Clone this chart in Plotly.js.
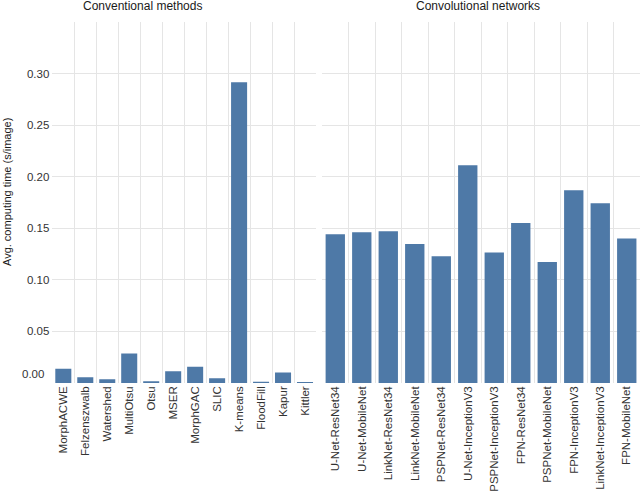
<!DOCTYPE html>
<html>
<head>
<meta charset="utf-8">
<script src="https://cdn.plot.ly/plotly-3.0.1.min.js"></script>
<style>html,body{margin:0;padding:0;background:#fff}#chart{width:642px;height:492px}</style>
</head>
<body>
<div id="chart"></div>
<script>
const convCategories = ["MorphACWE","Felzenszwalb","Watershed","MultiOtsu","Otsu","MSER","MorphGAC","SLIC","K-means","FloodFill","Kapur","Kittler"];
const convValues = [0.0139, 0.0056, 0.0037, 0.0286, 0.0018, 0.0114, 0.0158, 0.0047, 0.2916, 0.0012, 0.0102, 0.0010];
const cnnCategories = ["U-Net-ResNet34","U-Net-MobileNet","LinkNet-ResNet34","LinkNet-MobileNet","PSPNet-ResNet34","U-Net-InceptionV3","PSPNet-InceptionV3","FPN-ResNet34","PSPNet-MobileNet","FPN-InceptionV3","LinkNet-InceptionV3","FPN-MobileNet"];
const cnnValues = [0.1442, 0.1462, 0.1472, 0.1348, 0.1229, 0.2111, 0.1265, 0.1552, 0.1174, 0.1869, 0.1743, 0.1400];
const panelTitles = ["Conventional methods","Convolutional networks"];
const yTickVals = [0.05, 0.10, 0.15, 0.20, 0.25, 0.30];
const yTickText = ["0.05","0.10","0.15","0.20","0.25","0.30"];
const zeroLabel = "0.00";
const yTitle = "Avg. computing time (s/image)";

const barColor = "#4e79a7";
const gridColor = "#e5e5e5";
const font = "Liberation Sans, Arial, Helvetica, sans-serif";
const tickFont = {family: font, size: 11.5, color: "#333333"};

const traces = [
  {type: "bar", x: convCategories, y: convValues, xaxis: "x", yaxis: "y",
   marker: {color: barColor}, showlegend: false, hoverinfo: "x+y"},
  {type: "bar", x: cnnCategories, y: cnnValues, xaxis: "x2", yaxis: "y2",
   marker: {color: barColor}, showlegend: false, hoverinfo: "x+y"}
];

const xCommon = {
  type: "category", tickson: "boundaries", showgrid: true, gridcolor: gridColor, gridwidth: 1,
  zeroline: false, showline: false, ticks: "", tickangle: -90, tickfont: tickFont,
  range: [-0.5, 11.5], fixedrange: true
};
const yCommon = {
  range: [0, 0.35], tickmode: "array", tickvals: yTickVals, ticktext: yTickText,
  showgrid: true, gridcolor: gridColor, gridwidth: 1, zeroline: false, showline: false,
  ticks: "", tickfont: tickFont, fixedrange: true
};

const layout = {
  width: 642, height: 492,
  margin: {l: 0, r: 0, t: 22, b: 109, pad: 0},
  paper_bgcolor: "#fff", plot_bgcolor: "#fff",
  bargap: 0.27,
  font: {family: font},
  xaxis: Object.assign({}, xCommon, {domain: [0.0815, 0.4922], anchor: "y"}),
  xaxis2: Object.assign({}, xCommon, {domain: [0.5016, 0.9969], anchor: "y2"}),
  yaxis: Object.assign({}, yCommon, {anchor: "x", ticklabelstandoff: 2}),
  yaxis2: Object.assign({}, yCommon, {anchor: "x2", matches: "y", showticklabels: false}),
  annotations: [
    {text: panelTitles[0], xref: "paper", yref: "paper", x: 142.5/642, y: 1 + 16/361,
     xanchor: "center", yanchor: "middle", showarrow: false, font: {family: font, size: 12, color: "#1a1a1a"}},
    {text: panelTitles[1], xref: "paper", yref: "paper", x: 478/642, y: 1 + 16/361,
     xanchor: "center", yanchor: "middle", showarrow: false, font: {family: font, size: 12, color: "#1a1a1a"}},
    {text: zeroLabel, xref: "paper", yref: "paper", x: 46.5/642, y: (383-374)/361,
     xanchor: "right", yanchor: "middle", showarrow: false, font: tickFont},
    {text: yTitle, xref: "paper", yref: "paper", x: 7/642, y: (383-192)/361, textangle: -90,
     xanchor: "center", yanchor: "middle", showarrow: false, font: {family: font, size: 11, color: "#1a1a1a"}}
  ]
};

Plotly.newPlot("chart", traces, layout, {displayModeBar: false, staticPlot: true});
</script>
</body>
</html>
